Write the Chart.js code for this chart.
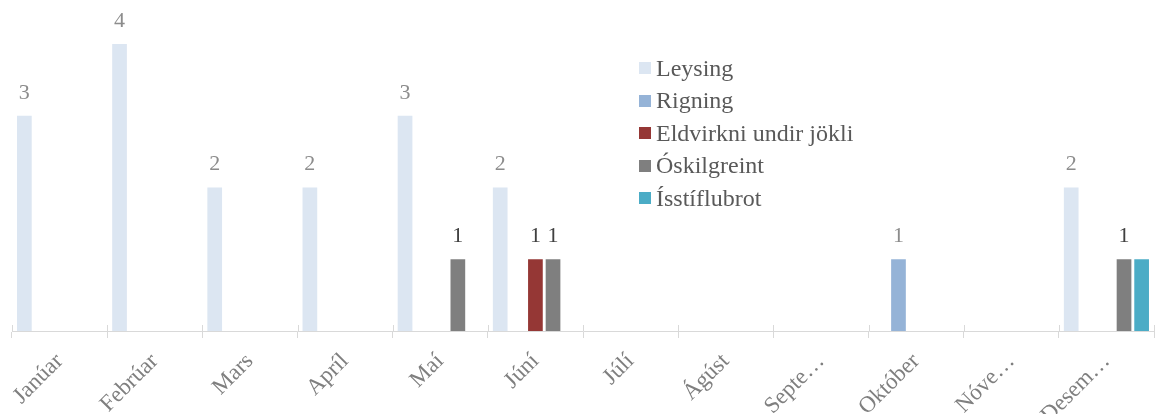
<!DOCTYPE html>
<html>
<head>
<meta charset="utf-8">
<script src="https://cdn.jsdelivr.net/npm/chart.js@4"></script>
<style>
  html, body { margin: 0; padding: 0; background: #ffffff; }
  #wrap { position: relative; width: 1155px; height: 414px; }
  #legend {
    position: absolute; left: 639px; top: 52px;
    font-family: "Liberation Serif", "Times New Roman", serif;
    font-size: 24px; color: #595959;
  }
  #legend .row { display: flex; align-items: center; height: 32.5px; white-space: nowrap; }
  #legend .box { width: 12px; height: 12px; margin-right: 5px; flex: none; }
</style>
</head>
<body>
<div id="wrap">
  <canvas id="c" width="1155" height="414"></canvas>
  <div id="legend"></div>
</div>
<script>
// Months and their axis labels (long names shortened as shown on the axis)
const months = ["Janúar", "Febrúar", "Mars", "Apríl", "Maí", "Júní", "Júlí", "Ágúst", "September", "Október", "Nóvember", "Desember"];
const monthLabels = ["Janúar", "Febrúar", "Mars", "Apríl", "Maí", "Júní", "Júlí", "Ágúst", "Septe…", "Október", "Nóve…", "Desem…"];

// Number of events per month, by cause
const leysing      = [3, 4, 2, 2, 3, 2, 0, 0, 0, 0, 0, 2];
const rigning      = [0, 0, 0, 0, 0, 0, 0, 0, 0, 1, 0, 0];
const eldvirkni    = [0, 0, 0, 0, 0, 1, 0, 0, 0, 0, 0, 0];
const oskilgreint  = [0, 0, 0, 0, 1, 1, 0, 0, 0, 0, 0, 1];
const isstiflubrot = [0, 0, 0, 0, 0, 0, 0, 0, 0, 0, 0, 1];

const seriesNames  = ["Leysing", "Rigning", "Eldvirkni undir jökli", "Óskilgreint", "Ísstíflubrot"];
const seriesColors = ["#dce6f2", "#95b3d7", "#953735", "#7f7f7f", "#4bacc6"];
const labelColors  = ["#8c8c8c", "#8c8c8c", "#404040", "#404040", null];

const seriesValues = [leysing, rigning, eldvirkni, oskilgreint, isstiflubrot];

const serif = "'Liberation Serif', 'Times New Roman', serif";

// Value labels above non-zero bars
const valueLabels = {
  id: 'valueLabels',
  afterDatasetsDraw(chart) {
    const ctx = chart.ctx;
    ctx.save();
    ctx.font = "22px " + serif;
    ctx.textAlign = 'center';
    ctx.textBaseline = 'alphabetic';
    chart.data.datasets.forEach((ds, di) => {
      if (!ds.labelColor) return;
      const meta = chart.getDatasetMeta(di);
      meta.data.forEach((bar, i) => {
        const v = ds.data[i];
        if (!v) return;
        ctx.fillStyle = ds.labelColor;
        ctx.fillText(String(v), bar.x, bar.y - 17);
      });
    });
    ctx.restore();
  }
};

// Cross tick marks: the part of each category divider above the axis line
const crossTicks = {
  id: 'crossTicks',
  afterDraw(chart) {
    const x = chart.scales.x;
    const ctx = chart.ctx;
    const step = x.getPixelForValue(1) - x.getPixelForValue(0);
    ctx.save();
    ctx.strokeStyle = '#d9d9d9';
    ctx.lineWidth = 1;
    ctx.beginPath();
    for (let i = 0; i <= months.length; i++) {
      const px = Math.round(x.getPixelForValue(0) - step / 2 + i * step) + 0.5;
      ctx.moveTo(px, x.top - 6);
      ctx.lineTo(px, x.top);
    }
    ctx.stroke();
    ctx.restore();
  }
};

const chart = new Chart(document.getElementById('c'), {
  type: 'bar',
  data: {
    labels: months,
    datasets: seriesNames.map((name, k) => ({
      label: name,
      data: seriesValues[k],
      backgroundColor: seriesColors[k],
      labelColor: labelColors[k],
      borderWidth: 0,
      categoryPercentage: 0.925,
      barPercentage: 0.835
    }))
  },
  options: {
    responsive: false,
    animation: false,
    layout: { padding: { left: 12, right: 1, top: 8, bottom: 0 } },
    plugins: {
      legend: { display: false },
      tooltip: { enabled: false }
    },
    scales: {
      x: {
        offset: true,
        border: { color: '#d9d9d9', width: 1 },
        grid: {
          offset: true,
          drawOnChartArea: false,
          color: '#d9d9d9',
          tickLength: 7
        },
        ticks: {
          autoSkip: false,
          minRotation: 45,
          maxRotation: 45,
          padding: 10,
          color: '#7f7f7f',
          font: { family: serif, size: 23 },
          callback: (v, i) => monthLabels[i]
        },
        afterFit: (s) => { s.height = 83; }
      },
      y: {
        display: false,
        min: 0,
        max: 4.5
      }
    }
  },
  plugins: [valueLabels, crossTicks]
});

// Legend built from the chart's datasets
const legendEl = document.getElementById('legend');
chart.data.datasets.forEach((ds) => {
  const row = document.createElement('div');
  row.className = 'row';
  const box = document.createElement('span');
  box.className = 'box';
  box.style.background = ds.backgroundColor;
  const txt = document.createElement('span');
  txt.textContent = ds.label;
  row.appendChild(box);
  row.appendChild(txt);
  legendEl.appendChild(row);
});
</script>
</body>
</html>
